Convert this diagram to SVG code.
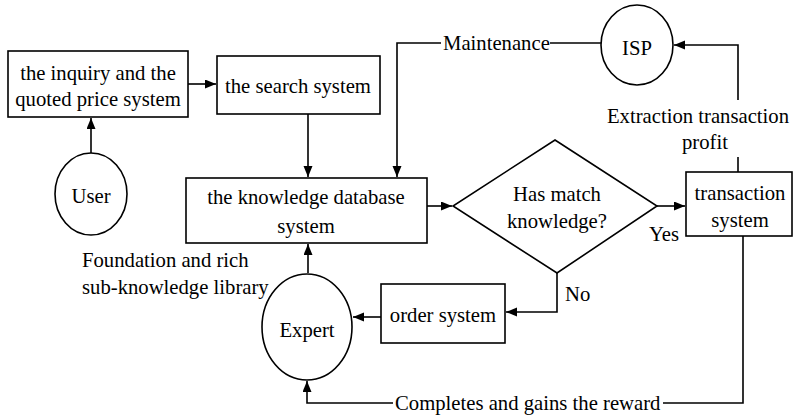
<svg xmlns="http://www.w3.org/2000/svg" width="794" height="418" viewBox="0 0 794 418">
<defs>
<style>
.s{fill:#fff;stroke:#000;stroke-width:1.6}
.c{fill:none;stroke:#000;stroke-width:1.6}
text{font-family:"Liberation Serif","Times New Roman",serif;font-size:20.7px;fill:#000}
.m{text-anchor:middle}
</style>
<marker id="a" markerUnits="userSpaceOnUse" markerWidth="12" markerHeight="10" refX="11" refY="4.5" orient="auto">
<path d="M0,0 L11,4.5 L0,9 z" fill="#000"/>
</marker>
</defs>
<rect width="794" height="418" fill="#fff"/>
<g id="connectors">
<path class="c" d="M188,84 L216,84" marker-end="url(#a)"/>
<path class="c" d="M91,153 L91,118" marker-end="url(#a)"/>
<path class="c" d="M308,114 L308,177" marker-end="url(#a)"/>
<path class="c" d="M602,43 L550,43"/>
<path class="c" d="M441,43 L397,43 L397,177" marker-end="url(#a)"/>
<path class="c" d="M427,206 L452,206" marker-end="url(#a)"/>
<path class="c" d="M657,206 L685,206" marker-end="url(#a)"/>
<path class="c" d="M557,273 L557,312 L506,312" marker-end="url(#a)"/>
<path class="c" d="M381,317 L353,317" marker-end="url(#a)"/>
<path class="c" d="M308,273 L308,244" marker-end="url(#a)"/>
<path class="c" d="M743,236 L743,403 L663,403"/>
<path class="c" d="M393,403 L307,403 L307,381" marker-end="url(#a)"/>
<path class="c" d="M738,172 L738,157"/>
<path class="c" d="M738,100 L738,45 L674,45" marker-end="url(#a)"/>
<text x="443" y="50">Maintenance</text>
<text x="698" y="123" class="m">Extraction transaction</text>
<text x="705" y="149" class="m">profit</text>
<text x="649" y="241">Yes</text>
<text x="565" y="301">No</text>
<text x="395" y="410">Completes and gains the reward</text>
<text x="82" y="267">Foundation and rich</text>
<text x="82" y="294">sub-knowledge library</text>
</g>
<g id="inquiry">
<rect class="s" x="8" y="51" width="180" height="66"/>
<text x="98" y="80" class="m">the inquiry and the</text>
<text x="98" y="106" class="m">quoted price system</text>
</g>
<g id="search">
<rect class="s" x="217" y="56" width="163" height="58"/>
<text x="298" y="93" class="m">the search system</text>
</g>
<g id="user">
<ellipse class="s" cx="91" cy="194" rx="36" ry="41"/>
<text x="91" y="203" class="m">User</text>
</g>
<g id="knowledge">
<rect class="s" x="186" y="178" width="241" height="65"/>
<text x="306" y="204" class="m">the knowledge database</text>
<text x="306" y="233" class="m">system</text>
</g>
<g id="isp">
<ellipse class="s" cx="637" cy="45" rx="36" ry="40"/>
<text x="637" y="55" class="m">ISP</text>
</g>
<g id="decision">
<polygon class="s" points="555,140 657,206 557,273 453,206"/>
<text x="557" y="201" class="m">Has match</text>
<text x="557" y="228" class="m">knowledge?</text>
</g>
<g id="transaction">
<rect class="s" x="686" y="172" width="106" height="64"/>
<text x="740" y="200" class="m">transaction</text>
<text x="740" y="227" class="m">system</text>
</g>
<g id="order">
<rect class="s" x="381" y="284" width="124" height="59"/>
<text x="443" y="322" class="m">order system</text>
</g>
<g id="expert">
<ellipse class="s" cx="307" cy="327" rx="45" ry="53"/>
<text x="307" y="337" class="m">Expert</text>
</g>
</svg>
